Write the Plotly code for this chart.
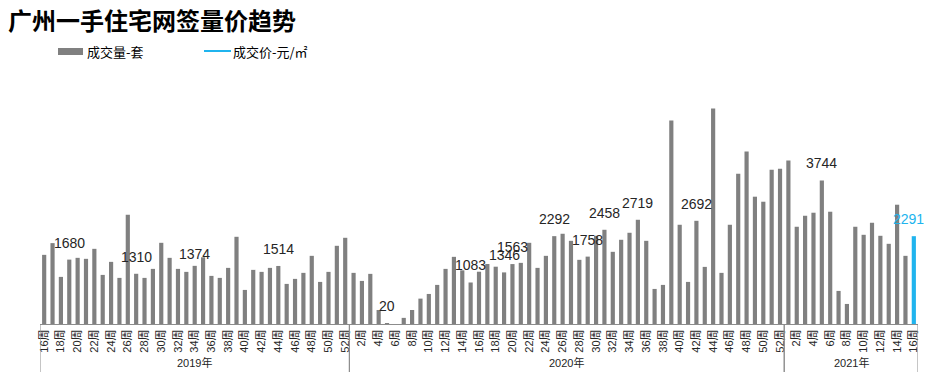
import plotly.graph_objects as go

# ---------------- data ----------------
years = ["2019年", "2020年", "2021年"]
weeks_2019 = list(range(16, 53))
weeks_2020 = list(range(1, 53))
weeks_2021 = list(range(1, 17))

vol_2019 = [1804, 2110, 1229, 1680, 1726, 1700, 1961, 1281, 1621, 1203,
            2850, 1310, 1203, 1438, 2118, 1726, 1438, 1360, 1517, 1740,
            1255, 1203, 1464, 2275, 889, 1412, 1360, 1464, 1514, 1046,
            1177, 1334, 1778, 1098, 1360, 2040, 2249]
vol_2020 = [1334, 1124, 1308, 366, 20, 0, 160, 366, 662, 784,
            1020, 1438, 1752, 1400, 1083, 1364, 1565, 1495, 1346, 1563,
            1595, 2118, 1464, 1778, 2292, 2354, 2170, 1674, 1758, 2301,
            2458, 1883, 2197, 2380, 2719, 2170, 915, 1020, 5308, 2589,
            1098, 2692, 1490, 5622, 1334, 2589, 3922, 4498, 3321, 3190,
            4027, 4053]
vol_2021 = [4262, 2537, 2824, 2903, 3744, 2929, 863, 523, 2537, 2327,
            2641, 2301, 2092, 3112, 1778, 2291]

label_year = ["2019年", "2019年", "2019年", "2019年", "2020年", "2020年", "2020年", "2020年",
              "2020年", "2020年", "2020年", "2020年", "2020年", "2021年", "2021年"]
label_week = [19, 27, 34, 44, 5, 15, 19, 20, 25, 29, 31, 35, 42, 5, 16]
label_value = [1680, 1310, 1374, 1514, 20, 1083, 1346, 1563, 2292, 1758, 2458, 2719, 2692, 3744, 2291]

series_names = ["成交量-套", "成交价-元/㎡"]
title_text = "广州一手住宅网签量价趋势"

# ---------------- styling ----------------
GRAY = "#808080"
BLUE = "#20b4ee"
AXIS = "#8c8c8c"
TXT = "#262626"
FONT = "Liberation Sans, Arial, Noto Sans CJK SC, sans-serif"
CJK = "Noto Sans CJK SC, sans-serif"

W, H = 924, 369  # page has an 8px body margin

groups = [(years[0], weeks_2019, vol_2019), (years[1], weeks_2020, vol_2020), (years[2], weeks_2021, vol_2021)]

cats, vals, ticktext = [], [], []
group_bounds = []
for yr, wks, vs in groups:
    start = len(cats)
    for w, v in zip(wks, vs):
        cats.append(f"{yr}{w}周")
        ticktext.append(f"{w}周")
        vals.append(v)
    group_bounds.append((yr, start, len(cats) - 1))

colors = [GRAY] * len(vals)
colors[-1] = BLUE

tickvals = cats[::2]
tick_labels = ticktext[::2]

fig = go.Figure()
fig.add_trace(go.Bar(x=cats, y=vals, marker=dict(color=colors, line=dict(width=0)),
                     name=series_names[0], showlegend=False, hoverinfo="x+y"))

# data labels
for yr, wk, v in zip(label_year, label_week, label_value):
    c = f"{yr}{wk}周"
    last = c == cats[-1]
    fig.add_annotation(x=c, y=v, xref="x", yref="y", text=str(v), showarrow=False,
                       yshift=17, yanchor="middle",
                       xanchor="right" if last else "center", xshift=11 if last else 0,
                       borderpad=0,
                       font=dict(family=FONT, size=14, color=BLUE if last else TXT))

# group labels and dividers
shapes = []
for yr, s, e in group_bounds:
    fig.add_annotation(x=(s + e) / 2, y=0, xref="x", yref="paper", text=yr, showarrow=False,
                       yshift=-38, yanchor="middle", font=dict(family=FONT, size=11, color=TXT))
    for xb in (s - 0.5, e + 0.5):
        shapes.append(dict(type="line", xref="x", yref="paper", x0=xb, x1=xb,
                           ysizemode="pixel", yanchor=0, y0=0, y1=-48,
                           line=dict(color=AXIS, width=1)))

# manual legend
shapes.append(dict(type="rect", xref="paper", yref="paper", xsizemode="pixel", xanchor=0,
                   x0=18, x1=43, ysizemode="pixel", yanchor=1, y0=39, y1=46,
                   fillcolor=GRAY, line=dict(width=0)))
shapes.append(dict(type="line", xref="paper", yref="paper", xsizemode="pixel", xanchor=0,
                   x0=164, x1=191, ysizemode="pixel", yanchor=1, y0=43, y1=43,
                   line=dict(color=BLUE, width=2)))
fig.add_annotation(x=0, y=1, xref="paper", yref="paper", xshift=45, yshift=43, xanchor="left",
                   yanchor="middle", text=series_names[0], showarrow=False,
                   font=dict(family=CJK, size=13, color="#000000"))
fig.add_annotation(x=0, y=1, xref="paper", yref="paper", xshift=191, yshift=43, xanchor="left",
                   yanchor="middle", text=series_names[1], showarrow=False,
                   font=dict(family=CJK, size=13, color="#000000"))

fig.update_layout(
    width=W, height=H,
    margin=dict(l=32, r=14, t=86, b=53, autoexpand=False),
    paper_bgcolor="white", plot_bgcolor="white",
    bargap=0.5,
    showlegend=False,
    title=dict(text=f"<b>{title_text}</b>", x=0, xanchor="left", xref="container",
               y=1 - 14 / H, yanchor="middle", yref="container",
               font=dict(family=CJK, size=24, color="#000000")),
    xaxis=dict(type="category", categoryorder="array", categoryarray=cats,
               tickmode="array", tickvals=tickvals, ticktext=tick_labels,
               tickangle=-90, tickfont=dict(family=FONT, size=11, color=TXT),
               showline=True, linecolor=AXIS, linewidth=1, ticks="",
               showgrid=False, zeroline=False, range=[-0.5, len(cats) - 0.5]),
    yaxis=dict(visible=False, range=[0, 6000], showgrid=False, zeroline=False),
    shapes=shapes,
)

fig.write_html("out.html")
